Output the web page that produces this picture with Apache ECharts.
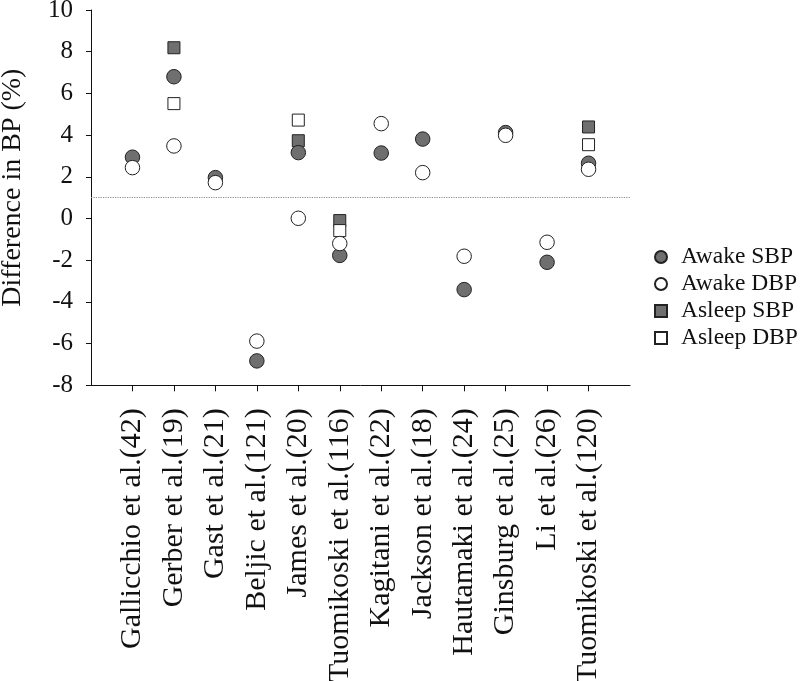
<!DOCTYPE html>
<html>
<head>
<meta charset="utf-8">
<script src="https://cdn.jsdelivr.net/npm/echarts@6/dist/echarts.min.js"></script>
<style>
html,body{margin:0;padding:0;background:#fff;}
#chart{width:800px;height:681px;}
</style>
</head>
<body>
<div id="chart"></div>
<script>
const studies = ["Gallicchio et al.(42)","Gerber et al.(19)","Gast et al.(21)","Beljic et al.(121)","James et al.(20)","Tuomikoski et al.(116)","Kagitani et al.(22)","Jackson et al.(18)","Hautamaki et al.(24)","Ginsburg et al.(25)","Li et al.(26)","Tuomikoski et al.(120)"];
const awakeSBP  = [2.94, 6.80, 1.96, -6.83, 3.16, -1.77, 3.14, 3.81, -3.41, 4.12, -2.10, 2.65];
const awakeDBP  = [2.44, 3.48, 1.72, -5.88, 0.01, -1.20, 4.55, 2.20, -1.81, 3.99, -1.14, 2.36];
const asleepSBP = [null, 8.19, null, null, 3.73, -0.10, null, null, null, null, null, 4.39];
const asleepDBP = [null, 5.51, null, null, 4.72, -0.58, null, null, null, null, null, 3.54];
const yTicks = [-8, -6, -4, -2, 0, 2, 4, 6, 8, 10];
const refLine = 1;

const positions = studies.map((s, i) => i + 1);
function pts(arr) {
  const out = [];
  arr.forEach((v, i) => { if (v !== null) out.push([i + 1, v]); });
  return out;
}
const FONT = "'Liberation Serif', 'DejaVu Serif', serif";
const GRAY = '#6f6f6f';

const chart = echarts.init(document.getElementById('chart'));
chart.setOption({
  animation: false,
  backgroundColor: '#fff',
  grid: { left: 91, right: 170, top: 10, bottom: 295.7, containLabel: false, outerBoundsMode: 'none' },
  legend: {
    orient: 'vertical',
    left: 654,
    top: 245,
    padding: 0,
    itemWidth: 12,
    itemHeight: 12,
    itemGap: 3,
    data: [
      { name: 'Awake SBP', icon: 'circle' },
      { name: 'Awake DBP', icon: 'circle' },
      { name: 'Asleep SBP', icon: 'rect' },
      { name: 'Asleep DBP', icon: 'rect' }
    ],
    textStyle: { fontFamily: FONT, fontSize: 23.5, lineHeight: 23, height: 23, color: '#111', padding: [0, 0, 0, 9] }
  },
  xAxis: {
    type: 'value',
    min: 0,
    max: 13,
    splitLine: { show: false },
    axisLine: { onZero: false, lineStyle: { color: '#111', width: 1 } },
    axisTick: { show: true, length: 6, lineStyle: { color: '#111' }, customValues: positions },
    axisLabel: {
      customValues: positions,
      rotate: 90,
      margin: 23,
      fontFamily: FONT,
      fontSize: 30,
      color: '#111',
      formatter: v => studies[Math.round(v) - 1] || ''
    }
  },
  yAxis: {
    type: 'value',
    min: yTicks[0],
    max: yTicks[yTicks.length - 1],
    interval: 2,
    name: 'Difference in BP (%)',
    nameLocation: 'middle',
    nameGap: 64,
    nameTextStyle: { fontFamily: FONT, fontSize: 28, color: '#111', padding: [0, 0, 0, 20] },
    splitLine: { show: false },
    axisLine: { show: true, onZero: false, lineStyle: { color: '#111', width: 1 } },
    axisTick: { show: true, length: 5, lineStyle: { color: '#111' } },
    axisLabel: { margin: 18, fontFamily: FONT, fontSize: 25, color: '#111' }
  },
  series: [
    {
      name: 'Asleep SBP', type: 'scatter', symbol: 'rect', symbolSize: 12,
      itemStyle: { color: GRAY, borderColor: '#222', borderWidth: 1, opacity: 1 },
      data: pts(asleepSBP),
      markLine: {
        silent: true, symbol: 'none', label: { show: false },
        lineStyle: { type: 'dotted', color: '#8a8a8a', width: 1.2 },
        data: [{ yAxis: refLine }]
      }
    },
    {
      name: 'Asleep DBP', type: 'scatter', symbol: 'rect', symbolSize: 12,
      itemStyle: { color: '#fff', borderColor: '#222', borderWidth: 1, opacity: 1 },
      data: pts(asleepDBP)
    },
    {
      name: 'Awake SBP', type: 'scatter', symbol: 'circle', symbolSize: 14.5,
      itemStyle: { color: GRAY, borderColor: '#222', borderWidth: 1, opacity: 1 },
      data: pts(awakeSBP)
    },
    {
      name: 'Awake DBP', type: 'scatter', symbol: 'circle', symbolSize: 14.5,
      itemStyle: { color: '#fff', borderColor: '#222', borderWidth: 1, opacity: 1 },
      data: pts(awakeDBP)
    }
  ]
});
</script>
</body>
</html>
